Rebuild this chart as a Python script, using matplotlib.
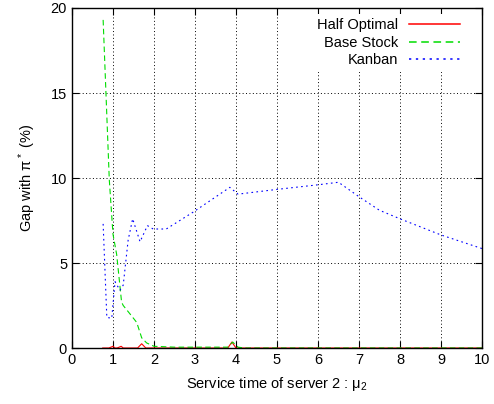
import numpy as np
import matplotlib.pyplot as plt

plt.rcParams['font.family'] = ['Liberation Sans', 'DejaVu Sans']
plt.rcParams['mathtext.fontset'] = 'custom'
plt.rcParams['mathtext.rm'] = 'Liberation Sans'
plt.rcParams['mathtext.it'] = 'Liberation Sans'

# Half Optimal
half_x = [0.75, 0.9, 1.0, 1.05, 1.1, 1.2, 1.25, 1.3, 1.5, 1.6, 1.7, 1.8, 2.0, 3.0, 3.7, 3.8, 3.9, 4.0, 4.1, 5.0, 7.0, 10.0]
half_y = [0.0, 0.0, 0.1, 0.0, 0.0, 0.1, 0.0, 0.0, 0.0, 0.0, 0.25, 0.0, 0.0, 0.0, 0.0, 0.0, 0.35, 0.0, 0.0, 0.0, 0.0, 0.0]

# Base Stock
base_x = [0.76, 0.91, 1.0, 1.09, 1.21, 1.25, 1.45, 1.58, 1.7, 1.82, 2.0, 2.5, 3.0, 3.5, 3.8, 3.92, 4.05, 4.2, 5.0, 7.0, 10.0]
base_y = [19.3, 9.9, 6.7, 5.5, 2.7, 2.5, 1.9, 1.5, 0.6, 0.3, 0.1, 0.05, 0.05, 0.05, 0.05, 0.35, 0.05, 0.0, 0.0, 0.0, 0.0]

# Kanban
kanban_x = [0.76, 0.85, 0.97, 1.05, 1.17, 1.25, 1.37, 1.48, 1.66, 1.84, 1.98, 2.3, 2.96, 3.85, 4.05, 5.0, 6.0, 6.5, 7.0, 7.5, 8.0, 9.0, 10.0]
kanban_y = [7.3, 1.8, 1.75, 3.9, 3.4, 3.7, 6.35, 7.6, 6.25, 7.2, 7.0, 7.0, 8.0, 9.45, 9.05, 9.33, 9.6, 9.75, 8.9, 8.1, 7.6, 6.65, 5.85]

fig = plt.figure(figsize=(4.94, 4.04), dpi=100)
ax = fig.add_axes([0.1457, 0.1386, 0.83, 0.8416])

ax.plot(half_x, half_y, color='#ff0000', linewidth=0.8, label='Half Optimal')
ax.plot(base_x, base_y, color='#00dd00', linewidth=0.8, linestyle=(0, (5, 3)), label='Base Stock')
ax.plot(kanban_x, kanban_y, color='#0000ff', linewidth=0.8, linestyle=(0, (1.5, 3)), label='Kanban')

ax.set_xlim(0, 10)
ax.set_ylim(0, 20)
ax.set_xticks(range(0, 11))
ax.set_yticks([0, 5, 10, 15, 20])
ax.grid(True, color='black', linestyle=(0, (1, 2.5)), linewidth=0.7)
ax.tick_params(direction='in', top=True, right=True, length=5, labelsize=10.5)
for s in ax.spines.values():
    s.set_linewidth(1.0)

ax.set_xlabel(r'Service time of server 2 : $\mu_2$', fontsize=10.5, labelpad=6)
ax.set_ylabel(r'Gap with $\pi^*$ (%)', fontsize=10.5, labelpad=9)

# white key box blanks the grid behind the entries, like gnuplot
leg = ax.legend(loc='upper right', bbox_to_anchor=(0.957, 0.983), frameon=True,
                facecolor='white', edgecolor='none', framealpha=1, fancybox=False,
                markerfirst=False, fontsize=10.5, handlelength=3.5, labelspacing=0.25,
                borderpad=0.3, borderaxespad=0, handletextpad=0.75)
for t in leg.get_texts():
    t.set_ha('right')
for h in leg.get_lines():
    h.set_linewidth(1.1)

fig.savefig('out.png', dpi=100)
